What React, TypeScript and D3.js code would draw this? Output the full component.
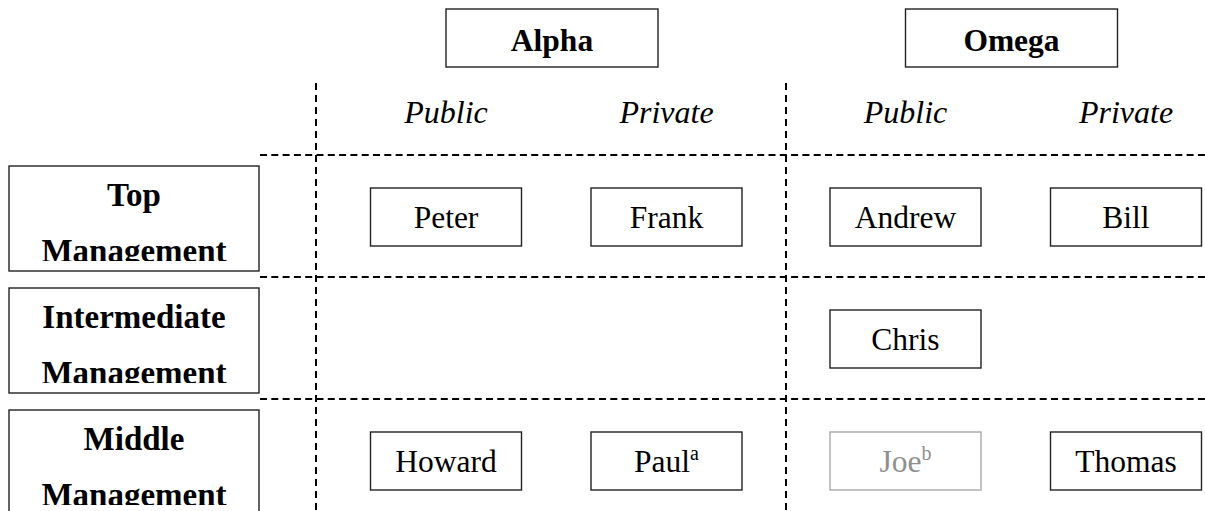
import React from "react";
import * as d3 from "d3";

// chart content
const groups = ["Alpha", "Omega"];
const sectors = ["Public", "Private"];
const levels = ["Top Management", "Intermediate Management", "Middle Management"];

const personNames = ["Peter", "Frank", "Andrew", "Bill", "Chris", "Howard", "Paul", "Joe", "Thomas"];
const personLevels = [
  "Top Management", "Top Management", "Top Management", "Top Management",
  "Intermediate Management",
  "Middle Management", "Middle Management", "Middle Management", "Middle Management",
];
const personGroups = ["Alpha", "Alpha", "Omega", "Omega", "Omega", "Alpha", "Alpha", "Omega", "Omega"];
const personSectors = ["Public", "Private", "Public", "Private", "Public", "Public", "Private", "Public", "Private"];
const personNotes = ["", "", "", "", "", "", "a", "b", ""];
const mutedNames = ["Joe"];

const W = 1205;
const H = 511;
const FONT = "'Liberation Serif', 'Times New Roman', serif";

export default function App() {
  const groupX = d3.scaleBand<string>().domain(groups).range([316, 316 + 2 * 459.5]);
  const sectorX = d3.scalePoint<string>().domain(sectors).range([130, 350.5]);
  const colX = (g: string, s: string) => (groupX(g) as number) + (sectorX(s) as number);

  const rowY = d3.scaleBand<string>().domain(levels).range([155, 155 + 3 * 122]);
  const rowMid = (l: string) => (rowY(l) as number) + rowY.bandwidth() / 2 + 1;

  const dividers = [
    colX(groups[0], sectors[0]) - 130,
    (colX(groups[0], sectors[1]) + colX(groups[1], sectors[0])) / 2,
  ];

  const boxW = 151;
  const boxH = 58;
  const labelX0 = 9;
  const labelX1 = 259;

  const people = personNames.map((name, i) => ({
    name,
    level: personLevels[i],
    group: personGroups[i],
    sector: personSectors[i],
    note: personNotes[i],
    muted: mutedNames.includes(name),
  }));

  return (
    <svg width={W} height={H} style={{ position: "absolute", left: 0, top: 0, background: "#fff" }} fontFamily={FONT}>
      <defs>
        {levels.map((l, i) => (
          <clipPath id={`lvclip${i}`} key={l}>
            <rect x={labelX0} y={(rowY(l) as number) + 11} width={labelX1 - labelX0} height={95} />
          </clipPath>
        ))}
      </defs>

      {/* grid dashes */}
      {levels.map((l) => (
        <line key={"h" + l} x1={260} x2={W} y1={rowY(l)} y2={rowY(l)} stroke="#000" strokeWidth={2} strokeDasharray="7,4.3" />
      ))}
      {dividers.map((x, i) => (
        <line key={"v" + i} x1={x} x2={x} y1={83} y2={H} stroke="#000" strokeWidth={2} strokeDasharray="7,5" />
      ))}

      {/* group titles */}
      {groups.map((g) => {
        const cx = (groupX(g) as number) + 236;
        return (
          <g key={g}>
            <rect x={cx - 106} y={9} width={212} height={58} fill="#fff" stroke="#222" strokeWidth={1.4} />
            <text x={cx} y={51} textAnchor="middle" fontWeight="bold" fontSize={31.5} fill="#000">{g}</text>
          </g>
        );
      })}

      {/* sector headers */}
      {groups.map((g) =>
        sectors.map((s) => (
          <text key={g + s} x={colX(g, s)} y={123} textAnchor="middle" fontStyle="italic" fontSize={32} fill="#000">{s}</text>
        ))
      )}

      {/* level labels */}
      {levels.map((l, i) => {
        const top = (rowY(l) as number) + 11;
        const words = l.split(" ");
        return (
          <g key={l}>
            <rect x={labelX0} y={top} width={labelX1 - labelX0} height={105} fill="#fff" stroke="#222" strokeWidth={1.4} />
            <g clipPath={`url(#lvclip${i})`}>
              {words.map((w, j) => (
                <text key={w + j} x={(labelX0 + labelX1) / 2} y={top + 40 + j * 56} textAnchor="middle" fontWeight="bold" fontSize={33} fill="#000">{w}</text>
              ))}
            </g>
          </g>
        );
      })}

      {/* people */}
      {people.map((p) => {
        const cx = colX(p.group, p.sector);
        const cy = rowMid(p.level);
        const stroke = p.muted ? "#a8a8a8" : "#222";
        const fill = p.muted ? "#8f8f8f" : "#000";
        return (
          <g key={p.name}>
            <rect x={cx - boxW / 2} y={cy - boxH / 2} width={boxW} height={boxH} fill="#fff" stroke={stroke} strokeWidth={1.4} />
            <text x={cx} y={cy + 11} textAnchor="middle" fontSize={31.5} fill={fill}>
              {p.name}
              {p.note && (
                <tspan dy={-12} fontSize={20}>{p.note}</tspan>
              )}
            </text>
          </g>
        );
      })}
    </svg>
  );
}
